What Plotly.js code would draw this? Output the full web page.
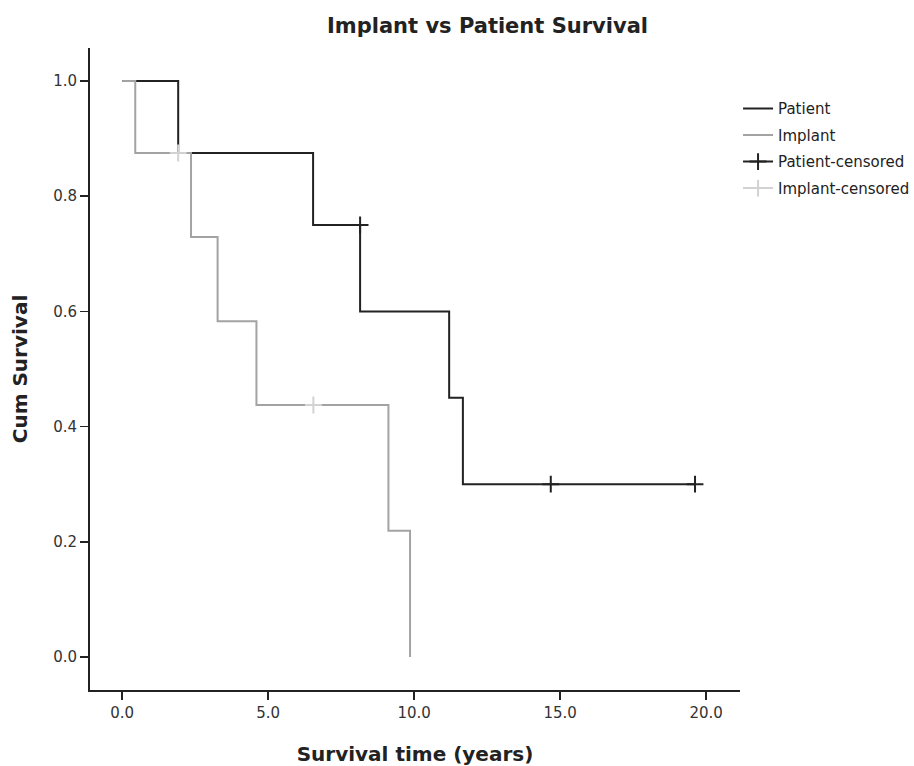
<!DOCTYPE html>
<html>
<head>
<meta charset="utf-8">
<script src="https://cdn.plot.ly/plotly-3.0.1.min.js"></script>
<style>html,body{margin:0;padding:0;background:#fff;}#chart{width:914px;height:766px;}</style>
</head>
<body>
<div id="chart"></div>
<script>
// Patient survival (Kaplan-Meier step points)
const patientTime = [0, 1.92, 6.54, 8.15, 11.2, 11.67, 19.62];
const patientSurv = [1.0, 0.875, 0.75, 0.6, 0.45, 0.3, 0.3];
const patientCensTime = [8.15, 14.68, 19.62];
const patientCensSurv = [0.75, 0.3, 0.3];

// Implant survival
const implantTime = [0, 0.45, 2.36, 3.27, 4.6, 9.12, 9.86];
const implantSurv = [1.0, 0.875, 0.729, 0.583, 0.4375, 0.219, 0.0];
const implantCensTime = [1.92, 6.55];
const implantCensSurv = [0.875, 0.4375];

const xTicks = [0, 5, 10, 15, 20];
const xTickLabels = ["0.0", "5.0", "10.0", "15.0", "20.0"];
const yTicks = [0, 0.2, 0.4, 0.6, 0.8, 1.0];
const yTickLabels = ["0.0", "0.2", "0.4", "0.6", "0.8", "1.0"];

// insert gaps so isolated censor marks are not joined (legend still shows a line)
function gaps(a) { const o = []; a.forEach((v, i) => { if (i) o.push(null); o.push(v); }); return o; }

const FONT = "'DejaVu Sans', 'Liberation Sans', Arial, sans-serif";
const darkC = "#222222", grayC = "#a3a3a3", lightC = "#d2d2d2";

const traces = [
  {x: patientTime, y: patientSurv, type: 'scatter', mode: 'lines', name: 'Patient', legendgroup: 'a',
   line: {shape: 'hv', color: darkC, width: 2}},
  {x: implantTime, y: implantSurv, type: 'scatter', mode: 'lines', name: 'Implant', legendgroup: 'b',
   line: {shape: 'hv', color: grayC, width: 2}},
  {x: gaps(patientCensTime), y: gaps(patientCensSurv), type: 'scatter', mode: 'lines+markers',
   name: 'Patient-censored', legendgroup: 'c', connectgaps: false,
   line: {color: darkC, width: 2},
   marker: {symbol: 'cross-thin-open', size: 12, color: darkC, line: {color: darkC, width: 2}}},
  {x: gaps(implantCensTime), y: gaps(implantCensSurv), type: 'scatter', mode: 'lines+markers',
   name: 'Implant-censored', legendgroup: 'd', connectgaps: false,
   line: {color: lightC, width: 2},
   marker: {symbol: 'cross-thin-open', size: 12, color: lightC, line: {color: lightC, width: 2}}}
];

const layout = {
  width: 914, height: 766,
  margin: {l: 90, r: 174, t: 48, b: 76, autoexpand: false},
  paper_bgcolor: '#fff', plot_bgcolor: '#fff',
  font: {family: FONT, color: '#333', size: 15},
  title: {text: '<b>Implant vs Patient Survival</b>', x: 0.5334, xanchor: 'center', y: 0.967, yanchor: 'middle',
          font: {family: FONT, size: 21, color: '#222'}},
  xaxis: {range: [-1.1, 21.16], tickvals: xTicks, ticktext: xTickLabels,
          showgrid: false, zeroline: false, showline: true, linecolor: '#222', linewidth: 2,
          ticks: 'outside', ticklen: 8, tickwidth: 1.5, tickcolor: '#222',
          tickfont: {size: 15, color: '#333'},
          title: {text: '<b>Survival time (years)</b>', font: {size: 20, color: '#222'}, standoff: 26}},
  yaxis: {range: [-0.0573, 1.0573], tickvals: yTicks, ticktext: yTickLabels,
          showgrid: false, zeroline: false, showline: true, linecolor: '#222', linewidth: 2,
          ticks: 'outside', ticklen: 8, tickwidth: 1.5, tickcolor: '#222',
          tickfont: {size: 15, color: '#333'},
          title: {text: '<b>Cum Survival</b>', font: {size: 20, color: '#222'}, standoff: 20}},
  legend: {x: 0.997, xanchor: 'left', y: 0.931, yanchor: 'top', bgcolor: 'rgba(0,0,0,0)',
           font: {size: 15, color: '#222'}, traceorder: 'grouped', tracegroupgap: 4, itemwidth: 30},
  showlegend: true
};

Plotly.newPlot('chart', traces, layout, {displayModeBar: false, staticPlot: true});
</script>
</body>
</html>
